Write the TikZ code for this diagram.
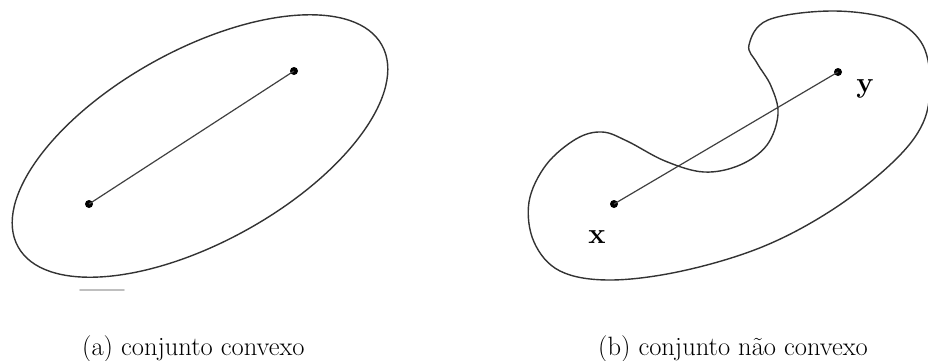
\documentclass[tikz,border=0pt]{standalone}
\usetikzlibrary{calc}
\begin{document}
\begin{tikzpicture}[x=1pt,y=-1pt,
  outline/.style={draw=black!80,line width=1.4pt},
  seg/.style={draw=black!75,line width=1.2pt},
  dot/.style={circle,fill=black,inner sep=0pt,minimum size=8pt},
  captext/.style={anchor=base west,inner sep=0pt,font=\fontsize{26.5}{30}\selectfont},
  lbl/.style={anchor=base,inner sep=0pt,font=\fontsize{29}{32}\selectfont\bfseries}]
\useasboundingbox (0,0) rectangle (928,360);
\clip (0,0) rectangle (928,360);
% (a) convex set
\draw[outline,rotate around={29:(200,146)}] (200,146) ellipse [x radius=208pt, y radius=96pt];
\draw[black!25,line width=1.6pt,line cap=round] (80,290) -- (124,290);
\node[dot] (a1) at (89,204) {};
\node[dot] (a2) at (294,71) {};
\draw[seg] (a1.center) -- (a2.center);
\node[captext] (capa) at (82,355) {(a) conjunto convexo};
% (b) non-convex set
\draw[outline] plot[smooth cycle,tension=0.6] coordinates {
  (749,45) (768,20) (831,11) (890,19) (921,42) (930,80) (923,123)
  (892,163) (832,210) (762,247) (682,271) (610,280) (560,271)
  (534,242) (529,202) (546,165) (576,139) (602,132) (627,141)
  (665,161) (704,172) (740,165) (767,145) (778,114) (771,86) (757,63)};
\node[dot] (bx) at (614,204) {};
\node[dot] (by) at (838,72) {};
\draw[seg] (bx.center) -- (by.center);
\node[lbl] (lx) at (597,243) {x};
\node[lbl] (ly) at (865,92) {y};
\node[captext] (capb) at (598,355) {(b) conjunto não convexo};
\end{tikzpicture}
\end{document}
